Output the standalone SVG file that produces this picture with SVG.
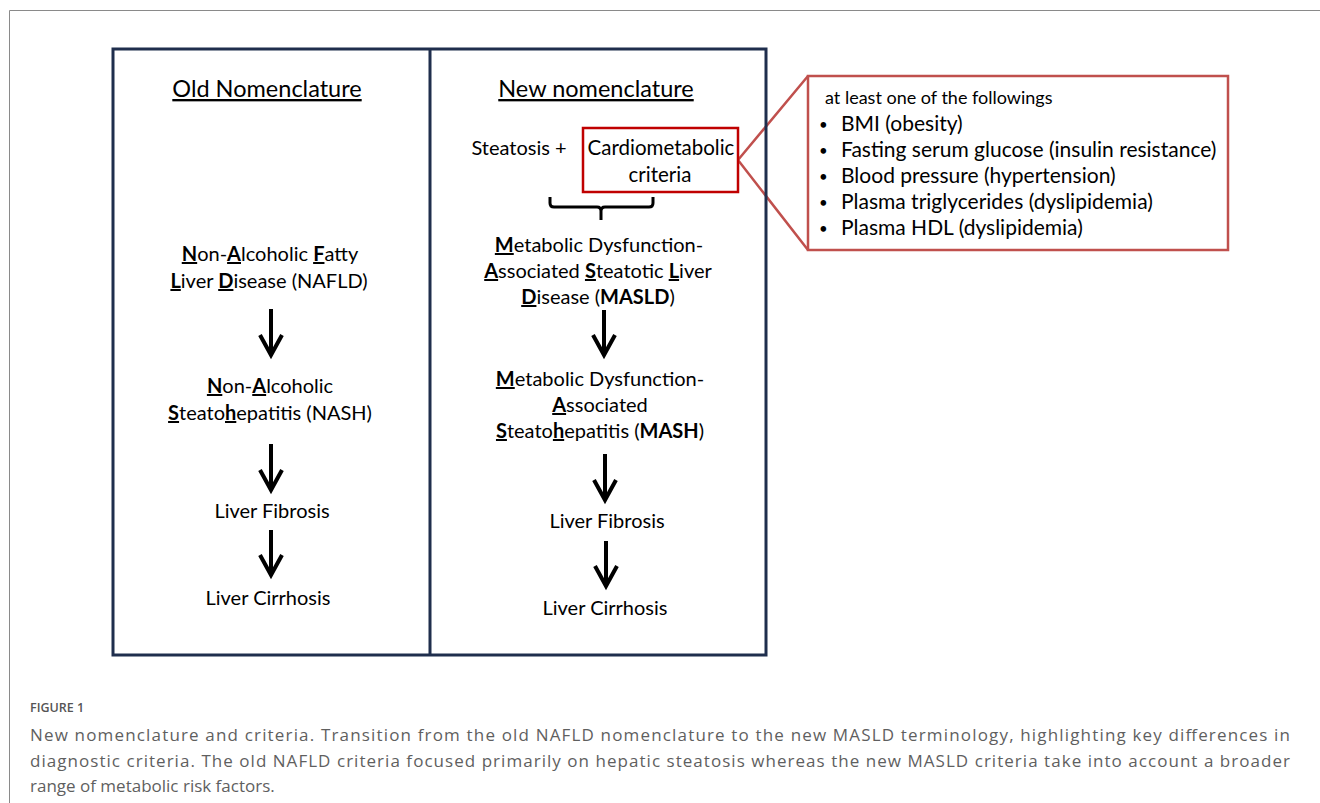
<svg xmlns="http://www.w3.org/2000/svg" width="1320" height="803" viewBox="0 0 1320 803">
<style>
.t{font-family:Lato,"Liberation Sans",sans-serif;fill:#000;text-anchor:middle}
.b{font-size:20px}
.h{font-size:23.5px;text-decoration:underline}
.k{font-weight:bold;text-decoration:underline}
.kb{font-weight:bold}
.li{font-family:Lato,"Liberation Sans",sans-serif;font-size:21px;fill:#000}
.bu{font-family:Lato,"Liberation Sans",sans-serif;font-size:15px;fill:#000}
.cap{font-family:"Open Sans","Liberation Sans",sans-serif;font-size:17px;fill:#5f5f5f}
.arr{stroke:#000;stroke-width:4;fill:none;marker-end:url(#ah)}
</style>
<defs>
<marker id="ah" markerUnits="userSpaceOnUse" markerWidth="40" markerHeight="40" viewBox="-30 -20 40 40" refX="0" refY="0" orient="auto" overflow="visible">
<path d="M -20 -11 L 0 0 L -20 11" fill="none" stroke="#000" stroke-width="4" stroke-linejoin="miter"/>
</marker>
</defs>
<rect width="1320" height="803" fill="#fff"/>
<path d="M9.5 803 V10.5 H1320" fill="none" stroke="#8a8a8a" stroke-width="1"/>

<g id="callout-lines">
<path d="M738 160 L808 76 M738 160 L808 250" fill="none" stroke="#c0504d" stroke-width="2.5"/>
</g>

<g id="frame">
<rect x="113" y="49" width="653" height="606" fill="none" stroke="#1f2e4d" stroke-width="3"/>
<line x1="430" y1="49" x2="430" y2="655" stroke="#1f2e4d" stroke-width="3"/>
</g>

<g id="title-old"><text class="t h" x="267" y="97">Old Nomenclature</text></g>
<g id="title-new"><text class="t h" x="596" y="97">New nomenclature</text></g>

<g id="steatosis"><text class="t b" x="519" y="155">Steatosis +</text></g>
<g id="cardio">
<rect x="583" y="128" width="155" height="64" fill="none" stroke="#c00000" stroke-width="2.5"/>
<text class="t b" x="661" y="155" style="font-size:20.5px">Cardiometabolic</text>
<text class="t b" x="660" y="182" style="font-size:20.5px">criteria</text>
</g>

<g id="criteria-box">
<rect x="808" y="76" width="420" height="174" fill="#fff" stroke="#c0504d" stroke-width="2.5"/>
<text class="li" x="825" y="104" style="font-size:18px">at least one of the followings</text>
<text class="bu" x="819" y="130">•</text><text class="li" x="841" y="131">BMI (obesity)</text>
<text class="bu" x="819" y="156">•</text><text class="li" x="841" y="157">Fasting serum glucose (insulin resistance)</text>
<text class="bu" x="819" y="182">•</text><text class="li" x="841" y="183">Blood pressure (hypertension)</text>
<text class="bu" x="819" y="208">•</text><text class="li" x="841" y="209">Plasma triglycerides (dyslipidemia)</text>
<text class="bu" x="819" y="234">•</text><text class="li" x="841" y="235">Plasma HDL (dyslipidemia)</text>
</g>

<g id="nafld">
<text class="t b" x="270" y="261"><tspan class="k">N</tspan>on-<tspan class="k">A</tspan>lcoholic <tspan class="k">F</tspan>atty</text>
<text class="t b" x="269" y="288"><tspan class="k">L</tspan>iver <tspan class="k">D</tspan>isease (NAFLD)</text>
</g>
<g id="nash">
<text class="t b" x="270" y="393"><tspan class="k">N</tspan>on-<tspan class="k">A</tspan>lcoholic</text>
<text class="t b" x="270" y="420"><tspan class="k">S</tspan>teato<tspan class="k">h</tspan>epatitis (NASH)</text>
</g>
<g id="fibrosis-old"><text class="t b" x="272" y="518">Liver Fibrosis</text></g>
<g id="cirrhosis-old"><text class="t b" x="268" y="605">Liver Cirrhosis</text></g>

<g id="masld">
<text class="t b" x="599" y="252"><tspan class="k">M</tspan>etabolic Dysfunction-</text>
<text class="t b" x="598" y="278"><tspan class="k">A</tspan>ssociated <tspan class="k">S</tspan>teatotic <tspan class="k">L</tspan>iver</text>
<text class="t b" x="598" y="304"><tspan class="k">D</tspan>isease (<tspan class="kb">MASLD</tspan>)</text>
</g>
<g id="mash">
<text class="t b" x="600" y="386"><tspan class="k">M</tspan>etabolic Dysfunction-</text>
<text class="t b" x="600" y="412"><tspan class="k">A</tspan>ssociated</text>
<text class="t b" x="600" y="438"><tspan class="k">S</tspan>teato<tspan class="k">h</tspan>epatitis (<tspan class="kb">MASH</tspan>)</text>
</g>
<g id="fibrosis-new"><text class="t b" x="607" y="528">Liver Fibrosis</text></g>
<g id="cirrhosis-new"><text class="t b" x="605" y="615">Liver Cirrhosis</text></g>

<g id="connectors">
<path d="M550 197 V203 Q550 207 554 207 H597 Q601 207 601 211 V220 M601 211 Q601 207 605 207 H649 Q653 207 653 203 V197" fill="none" stroke="#000" stroke-width="3"/>
<path class="arr" d="M271 309 V355"/>
<path class="arr" d="M271 444 V490"/>
<path class="arr" d="M271 530 V575"/>
<path class="arr" d="M604 310 V355"/>
<path class="arr" d="M605 454 V500"/>
<path class="arr" d="M606 541 V586"/>
</g>

<g id="caption">
<text class="cap" x="30" y="712" style="font-size:12.5px;font-weight:600;fill:#555">FIGURE 1</text>
<text class="cap" x="30" y="741" textLength="1260" lengthAdjust="spacing">New nomenclature and criteria. Transition from the old NAFLD nomenclature to the new MASLD terminology, highlighting key differences in</text>
<text class="cap" x="30" y="767" textLength="1260" lengthAdjust="spacing">diagnostic criteria. The old NAFLD criteria focused primarily on hepatic steatosis whereas the new MASLD criteria take into account a broader</text>
<text class="cap" x="30" y="792">range of metabolic risk factors.</text>
</g>
</svg>
